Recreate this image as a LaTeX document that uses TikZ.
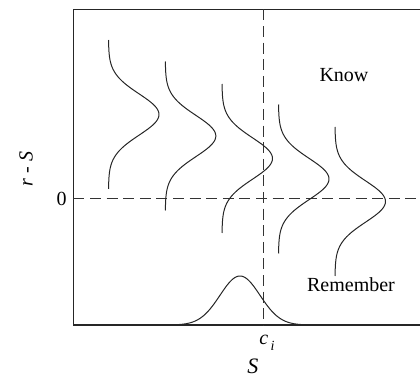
\documentclass[tikz,border=0pt]{standalone}
\usepackage{fontspec}
\setmainfont{Liberation Serif}
\begin{document}
\begin{tikzpicture}[x=0.5pt,y=-0.5pt,
  axis/.style={line width=0.6pt,black!85},
  guide/.style={line width=0.5pt,black!80,dash pattern=on 5.5pt off 2.8pt},
  curve/.style={line width=0.5pt,black!85},
  lbl/.style={font=\fontsize{10}{12}\selectfont,inner sep=0pt}]
\useasboundingbox (0,0) rectangle (420,375);
% frame
\coordinate (tl) at (73.5,9.5);
\coordinate (tr) at (420,9.5);
\coordinate (bl) at (73.5,325);
\coordinate (br) at (420,325);
\draw[axis] (tr) -- (tl) -- (bl) -- (br);
% dashed guides
\coordinate (h0) at (73.5,199);
\coordinate (h1) at (420,199);
\coordinate (v0) at (264,9.5);
\coordinate (v1) at (264,325);
\draw[guide] (h0) -- (h1);
\draw[guide] (v0) -- (v1);
% vertical gaussians
\foreach \bx/\mu in {108.5/114.5, 165.3/136, 222/158.5, 278.5/179, 335/201.5}{
  \draw[curve] plot[domain=-74.5:74.5,samples=100,smooth] ({\bx+50.5*exp(-(\x*\x)/850)},{\mu+\x});
}
% bottom gaussian
\draw[curve] plot[domain=-74:74,samples=100,smooth] ({240+\x},{325-49*exp(-(\x*\x)/800)});
% labels
\node[lbl] (know) at (344,75) {Know};
\node[lbl] (rem) at (351,285) {Remember};
\node[lbl,anchor=east] (zero) at (67,199) {0};
\node[lbl,rotate=90] (rs) at (26,169) {\itshape r - S};
\node[lbl] (ci) at (267,343) {\itshape c\kern1.2pt\raisebox{-2.8pt}{\fontsize{7}{8}\selectfont i}};
\node[lbl,font=\fontsize{11}{13}\selectfont] (s) at (253,366) {\itshape S};
\end{tikzpicture}
\end{document}
